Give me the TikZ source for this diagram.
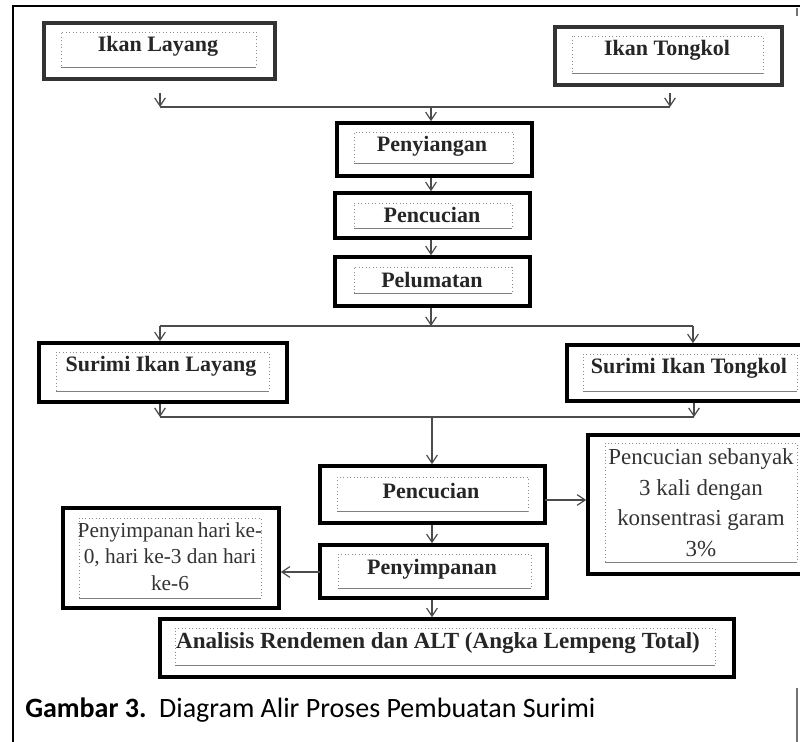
\documentclass[tikz,border=0pt]{standalone}
\usepackage{fontspec}
\setmainfont{Liberation Serif}
\newfontfamily\capfont{Carlito}
\usetikzlibrary{arrows.meta,fit}
\begin{document}
\begin{tikzpicture}[x=0.75pt,y=-0.75pt,
 obox/.style={draw=black, line width=2.7pt, inner sep=0pt},
 oboxg/.style={draw=black!80, line width=2.5pt, inner sep=0pt},
 ibox/.style={draw=black!45, dotted, line width=0.6pt, inner sep=0pt},
 ibot/.style={draw=black!50, line width=0.9pt},
 btxt/.style={font=\fontsize{16.5}{20}\selectfont\bfseries, text=black!85, inner sep=0pt},
 ntxt/.style={font=\fontsize{17.2}{22.9}\selectfont, text=black!80, align=center, inner sep=0pt},
 stxt/.style={font=\fontsize{16}{20}\selectfont, text=black!80, align=center, inner sep=0pt},
 conn/.style={draw=black!70, line width=0.9pt},
 arr/.style={conn, -{Straight Barb[length=6pt,width=8pt]}},
]
\useasboundingbox[fill=white] (0,0) rectangle (800,742);

% frame
\draw[black, line width=1.6pt] (13,742) -- (13,6) -- (800,6);
\draw[black!55, line width=0.8pt] (797,8) -- (797,16);
\draw[black!55, line width=0.8pt] (797,688) -- (797,742);

% Ikan Layang
\node[oboxg, fit={(44,23)(275,79)}] (il) {};
\node[ibox, fit={(61,32)(256,67)}] (ili) {};
\draw[ibot] (ili.south west) -- (ili.south east);
\node[btxt] (ilt) at (158,46) {Ikan Layang};

% Ikan Tongkol
\node[oboxg, fit={(555,27)(782,85)}] (it) {};
\node[ibox, fit={(572,36)(763,73)}] (iti) {};
\draw[ibot] (iti.south west) -- (iti.south east);
\node[btxt] (itt) at (667,50) {Ikan Tongkol};

% Penyiangan
\node[obox, fit={(337,123)(532,176)}] (pny) {};
\node[ibox, fit={(354,132)(513,163)}] (pnyi) {};
\draw[ibot] (pnyi.south west) -- (pnyi.south east);
\node[btxt] (pnyt) at (432,146) {Penyiangan};

% Pencucian
\node[obox, fit={(335,193)(530,238)}] (pcc) {};
\node[ibox, fit={(354,203)(512,228)}] (pcci) {};
\draw[ibot] (pcci.south west) -- (pcci.south east);
\node[btxt] (pcct) at (432,215) {Pencucian};

% Pelumatan
\node[obox, fit={(335,257)(530,306)}] (plm) {};
\node[ibox, fit={(354,267)(512,293)}] (plmi) {};
\draw[ibot] (plmi.south west) -- (plmi.south east);
\node[btxt] (plmt) at (432,280) {Pelumatan};

% Surimi Ikan Layang
\node[obox, fit={(39,343)(287,402)}] (sil) {};
\node[ibox, fit={(56,352)(269,391)}] (sili) {};
\draw[ibot] (sili.south west) -- (sili.south east);
\node[btxt] (silt) at (161,366) {Surimi Ikan Layang};

% Surimi Ikan Tongkol
\node[obox, fit={(567,345)(804,401)}] (sit) {};
\node[ibox, fit={(583,354)(797,391)}] (siti) {};
\draw[ibot] (siti.south west) -- (siti.south east);
\node[btxt] (sitt) at (689,368) {Surimi Ikan Tongkol};

% Pencucian 2
\node[obox, fit={(320,466)(545,523)}] (pc2) {};
\node[ibox, fit={(337,477)(528,511)}] (pc2i) {};
\draw[ibot] (pc2i.south west) -- (pc2i.south east);
\node[btxt] (pc2t) at (431,491) {Pencucian};

% note
\node[obox, fit={(588,435)(804,574)}] (note) {};
\node[ibox, fit={(605,443)(797,562)}] (notei) {};
\draw[ibot] (notei.south west) -- (notei.south east);
\node[ntxt] (notet) at (701,502.5) {Pencucian sebanyak\\3 kali dengan\\konsentrasi garam\\3\%};

% Penyimpanan
\node[obox, fit={(320,545)(547,598)}] (psm) {};
\node[ibox, fit={(338,554)(531,588)}] (psmi) {};
\draw[ibot] (psmi.south west) -- (psmi.south east);
\node[btxt] (psmt) at (432,569) {Penyimpanan};

% storage note
\node[obox, fit={(63,508)(279,608)}] (sto) {};
\node[ibox, fit={(79,518)(261,598)}] (stoi) {};
\draw[ibot] (stoi.south west) -- (stoi.south east);
\node[stxt] (stot) at (170,556.5) {Penyimpanan\hspace{3pt}hari\hspace{3pt}ke-\\0, hari ke-3 dan hari\\ke-6};

% Analisis
\node[obox, fit={(160,619)(734,677)}] (ana) {};
\node[ibox, fit={(175,628)(715,665)}] (anai) {};
\draw[ibot] (anai.south west) -- (anai.south east);
\node[btxt, font=\fontsize{17.3}{20}\selectfont\bfseries] (anat) at (438,643) {Analisis Rendemen dan ALT (Angka Lempeng Total)};

% caption
\node[anchor=base west, inner sep=0pt, font=\capfont\fontsize{21}{25}\selectfont] (cap) at (25,717)
 {\textbf{Gambar 3.}\ \ Diagram Alir Proses Pembuatan Surimi};

% connectors
\coordinate (ja) at (160,93);
\coordinate (jb) at (160,107);
\coordinate (jc) at (670,93);
\coordinate (jd) at (670,107);
\coordinate (je) at (431,107);
\draw[arr] (ja) -- (jb);
\draw[arr] (jc) -- (jd);
\draw[conn] (jb) -- (jd);
\draw[arr] (je) -- (je |- pny.north);
\draw[arr] (pny.south -| je) -- (pcc.north -| je);
\draw[arr] (pcc.south -| je) -- (plm.north -| je);

\coordinate (k1) at (160,326);
\coordinate (k2) at (693,326);
\coordinate (k3) at (431,326);
\draw[arr] (plm.south -| k3) -- (k3);
\draw[conn] (k1) -- (k2);
\draw[arr] (k1) -- (k1 |- sil.north);
\draw[arr] (k2) -- (k2 |- sit.north);

\coordinate (m1) at (160,417);
\coordinate (m2) at (694,417);
\coordinate (m3) at (432,417);
\draw[arr] (sil.south -| m1) -- (m1);
\draw[arr] (sit.south -| m2) -- (m2);
\draw[conn] (m1) -- (m2);
\draw[arr] (m3) -- (m3 |- pc2.north);

\coordinate (n1) at (545,500);
\draw[arr] (n1) -- (n1 -| note.west);
\draw[arr] (pc2.south -| m3) -- (psm.north -| m3);
\coordinate (s1) at (320,572);
\draw[arr] (s1) -- (s1 -| sto.east);
\draw[arr] (psm.south -| m3) -- (ana.north -| m3);
\end{tikzpicture}
\end{document}
